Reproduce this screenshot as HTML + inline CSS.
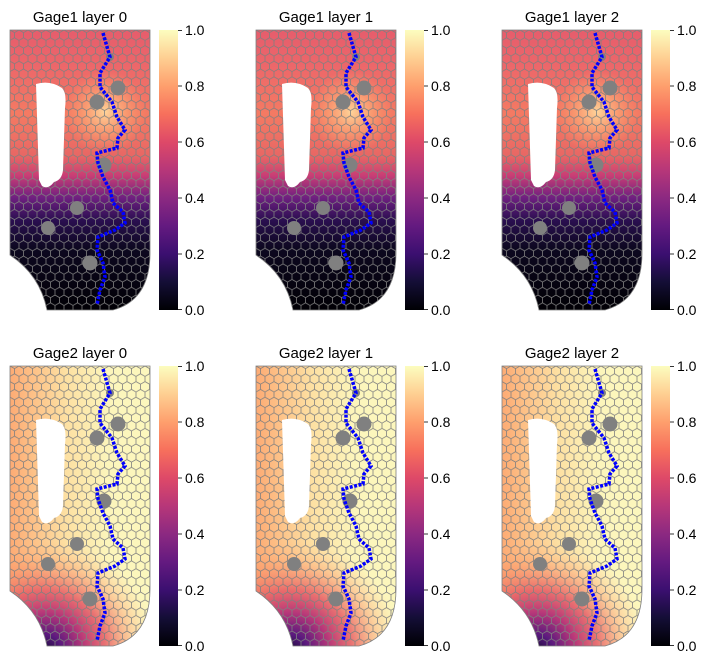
<!DOCTYPE html>
<html><head><meta charset="utf-8"><style>
body{margin:0;background:#fff;}
svg{display:block;font-family:"Liberation Sans","DejaVu Sans",sans-serif;}
</style></head><body>
<svg width="708" height="664" viewBox="0 0 708 664" xmlns="http://www.w3.org/2000/svg">
<defs>
<path id="dom" d="M0,0 H140 V223 Q140,270 103,280 H37 Q30,245 0,225 Z"/>
<path id="hole" d="M26,54 Q40,50 52,58 Q57,63 55,78 L53,140 Q52,150 44,152 Q38,160 32,156 L29,150 Z"/>
<clipPath id="clip"><use href="#dom"/></clipPath>
<pattern id="hex" width="9" height="15.59" patternUnits="userSpaceOnUse">
<path d="M0,0 L4.5,2.6 L4.5,7.79 L0,10.39 M4.5,2.6 L9,0 M4.5,7.79 L9,10.39 L9,15.59 M0,10.39 L0,15.59" fill="none" stroke="#808080" stroke-width="0.8"/>
</pattern>
<linearGradient id="g1" x1="0" y1="0" x2="0" y2="1">
<stop offset="0" stop-color="#e65d6c"/><stop offset="0.12" stop-color="#ec666a"/>
<stop offset="0.3" stop-color="#f47a63"/><stop offset="0.45" stop-color="#e86764"/>
<stop offset="0.52" stop-color="#c83e75"/><stop offset="0.6" stop-color="#6e1f80"/>
<stop offset="0.68" stop-color="#2a0f50"/><stop offset="0.78" stop-color="#0d0820"/>
<stop offset="1" stop-color="#010005"/>
</linearGradient>
<radialGradient id="g1b" cx="95" cy="82" r="42" gradientUnits="userSpaceOnUse">
<stop offset="0" stop-color="#fed49a" stop-opacity="1"/>
<stop offset="0.5" stop-color="#fdae78" stop-opacity="0.6"/>
<stop offset="1" stop-color="#fb9a6a" stop-opacity="0"/>
</radialGradient>
<linearGradient id="g2a" x1="0" y1="0" x2="1" y2="0">
<stop offset="0" stop-color="#fdab74"/><stop offset="0.4" stop-color="#fde0a2"/>
<stop offset="0.7" stop-color="#fcf5bb"/><stop offset="1" stop-color="#fcf7bd"/>
</linearGradient>
<radialGradient id="g2b" cx="35" cy="285" r="110" gradientUnits="userSpaceOnUse">
<stop offset="0" stop-color="#1a0a3a" stop-opacity="1"/>
<stop offset="0.15" stop-color="#5a1a7e" stop-opacity="1"/>
<stop offset="0.35" stop-color="#b73779" stop-opacity="1"/>
<stop offset="0.55" stop-color="#e55a66" stop-opacity="0.85"/>
<stop offset="0.8" stop-color="#fb8c64" stop-opacity="0.35"/>
<stop offset="1" stop-color="#fdb47c" stop-opacity="0"/>
</radialGradient>
<linearGradient id="cb" x1="0" y1="1" x2="0" y2="0">
<stop offset="0" stop-color="#000004"/><stop offset="0.1" stop-color="#140e36"/>
<stop offset="0.2" stop-color="#3b0f70"/><stop offset="0.3" stop-color="#641a80"/>
<stop offset="0.4" stop-color="#8c2981"/><stop offset="0.5" stop-color="#b73779"/>
<stop offset="0.6" stop-color="#de4968"/><stop offset="0.7" stop-color="#f7705c"/>
<stop offset="0.8" stop-color="#fe9f6d"/><stop offset="0.9" stop-color="#fecf92"/>
<stop offset="1" stop-color="#fcfdbf"/>
</linearGradient>
<g id="over">
<rect width="140" height="280" fill="url(#hex)" clip-path="url(#clip)"/>
<use href="#dom" fill="none" stroke="#808080" stroke-width="0.8"/>
<g fill="#808080">
<circle cx="108" cy="58" r="7.5"/><circle cx="87" cy="72" r="7.5"/><circle cx="94" cy="135" r="7.5"/>
<circle cx="67" cy="178" r="7"/><circle cx="38" cy="198" r="7"/><circle cx="80" cy="233" r="7.5"/>
<circle cx="100" cy="27" r="4"/>
</g>
<use href="#hole" fill="#fff"/>
<polyline points="93,3 100,27 90,43 90,57 102,72 107,87 115,100 108,108 107,118 87,123 88,133 93,147 100,160 103,173 113,182 115,193 105,200 88,207 87,220 93,233 95,247 90,260 87,275" fill="none" stroke="#0000ff" stroke-width="3.5" stroke-dasharray="3,1.5"/>
</g>
<g id="p1"><use href="#dom" fill="url(#g1)"/><use href="#dom" fill="url(#g1b)"/><use href="#over"/></g>
<g id="p2"><use href="#dom" fill="url(#g2a)"/><use href="#dom" fill="url(#g2b)"/><use href="#over"/></g>
<g id="cbar" font-size="14" fill="#000">
<rect x="0" y="0" width="19" height="280" fill="url(#cb)"/>
<g stroke="#000" stroke-width="0.8"><line x1="19" y1="0.4" x2="23" y2="0.4"/><line x1="19" y1="56" x2="23" y2="56"/><line x1="19" y1="112" x2="23" y2="112"/><line x1="19" y1="168" x2="23" y2="168"/><line x1="19" y1="224" x2="23" y2="224"/><line x1="19" y1="279.6" x2="23" y2="279.6"/></g>
<text x="26" y="5">1.0</text><text x="26" y="61">0.8</text><text x="26" y="117">0.6</text><text x="26" y="173">0.4</text><text x="26" y="229">0.2</text><text x="26" y="285">0.0</text>
</g>
</defs>
<g font-size="15" text-anchor="middle" fill="#000">
<text x="80" y="22">Gage1 layer 0</text><text x="326" y="22">Gage1 layer 1</text><text x="572" y="22">Gage1 layer 2</text>
<text x="80" y="358">Gage2 layer 0</text><text x="326" y="358">Gage2 layer 1</text><text x="572" y="358">Gage2 layer 2</text>
</g>
<use href="#p1" x="10" y="30"/><use href="#p1" x="256" y="30"/><use href="#p1" x="502" y="30"/>
<use href="#p2" x="10" y="366"/><use href="#p2" x="256" y="366"/><use href="#p2" x="502" y="366"/>
<use href="#cbar" x="159" y="30"/><use href="#cbar" x="405" y="30"/><use href="#cbar" x="651" y="30"/>
<use href="#cbar" x="159" y="366"/><use href="#cbar" x="405" y="366"/><use href="#cbar" x="651" y="366"/>
</svg>
</body></html>
